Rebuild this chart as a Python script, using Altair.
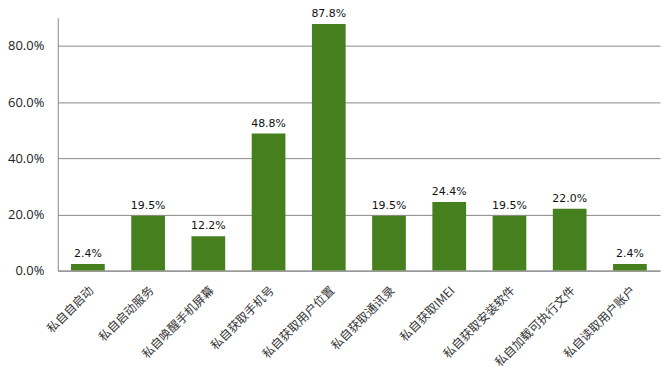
import altair as alt
import pandas as pd

categories = ["私自自启动", "私自启动服务", "私自唤醒手机屏幕", "私自获取手机号", "私自获取用户位置",
              "私自获取通讯录", "私自获取IMEI", "私自获取安装软件", "私自加载可执行文件", "私自读取用户账户"]
values = [2.4, 19.5, 12.2, 48.8, 87.8, 19.5, 24.4, 19.5, 22.0, 2.4]

df = pd.DataFrame({"cat": categories, "val": [v / 100 for v in values]})

x = alt.X("cat:N", sort=categories, title=None,
          scale=alt.Scale(paddingInner=0.44, paddingOuter=0.22),
          axis=alt.Axis(labelAngle=-45, labelAlign="right", labelBaseline="top",
                        labelFont="Noto Sans CJK SC", labelFontSize=12, labelColor="#333",
                        ticks=False, domainColor="#888", labelPadding=14))
y = alt.Y("val:Q", title=None,
          scale=alt.Scale(domain=[0, 0.9], nice=False),
          axis=alt.Axis(values=[0, 0.2, 0.4, 0.6, 0.8], format=".1%", ticks=False,
                        labelFont="Open Sans", labelFontSize=13, labelColor="#222",
                        gridColor="#888", domainColor="#888", labelPadding=14))

base = alt.Chart(df)
bars = base.mark_bar(color="#46801E").encode(x=x, y=y)
text = base.mark_text(dy=-5, baseline="bottom", font="DejaVu Sans", fontSize=11, color="#111").encode(
    x=alt.X("cat:N", sort=categories), y="val:Q", text=alt.Text("val:Q", format=".1%"))

chart = (bars + text).properties(
    width=605, height=254,
    autosize=alt.AutoSizeParams(type="none"),
    padding={"left": 50, "top": 9, "right": 4, "bottom": 98},
).configure_view(stroke=None)

chart.save("out.html", embed_options={"renderer": "svg", "actions": False})
